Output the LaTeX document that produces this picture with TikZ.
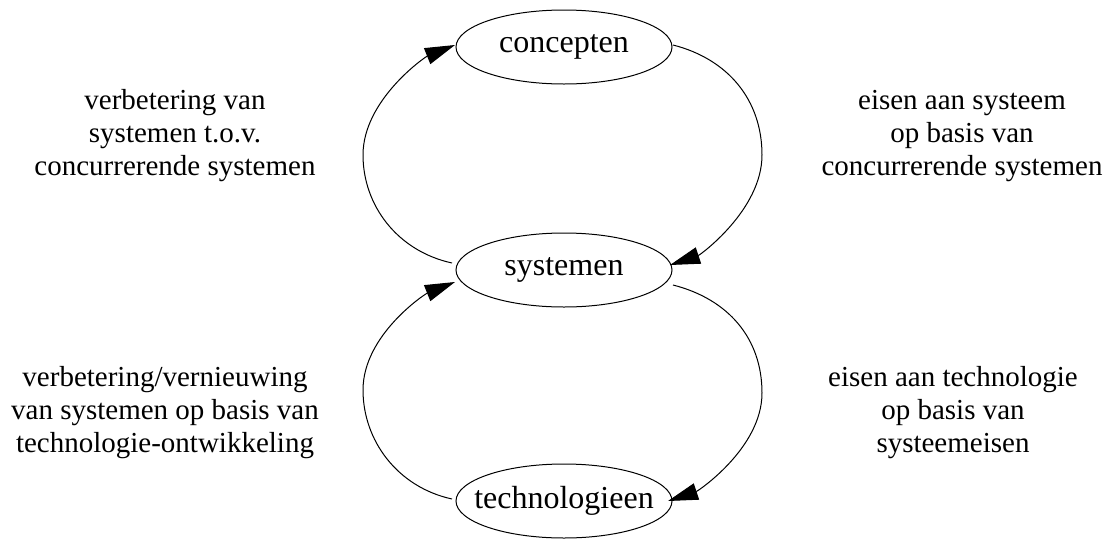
\documentclass[tikz,border=0pt]{standalone}
\usepackage{fontspec}
\setmainfont{Liberation Serif}
\usetikzlibrary{shapes.geometric,arrows.meta,calc}
\begin{document}
\begin{tikzpicture}[x=1pt,y=-1pt,
  state/.style={draw,ellipse,line width=1pt,minimum width=216pt,minimum height=74pt,inner ysep=0pt,inner xsep=-16pt,font=\fontsize{32}{36}\selectfont},
  lbl/.style={align=center,font=\fontsize{29}{33}\selectfont,inner sep=0pt},
  conn/.style={line width=1pt,-{Triangle[length=30pt,width=17pt]}}]
\useasboundingbox (0,0) rectangle (1112,539);
\node[state] (con) at (564,47) {concepten};
\node[state] (sys) at (564,270) {systemen};
\node[state] (tech) at (564,501) {technologieen};

\node[lbl] (l1) at (175,136) {verbetering van\\systemen t.o.v.\\concurrerende systemen};
\node[lbl] (l2) at (962,136) {eisen aan systeem\\op basis van\\concurrerende systemen};
\node[lbl] (l3) at (165,413) {verbetering/vernieuwing\\van systemen op basis van\\technologie-ontwikkeling};
\node[lbl] (l4) at (953,413) {eisen aan technologie\\op basis van\\systeemeisen};

% systemen -> concepten (left)
\draw[conn] ($(sys.center)+(-112,-7)$) .. controls +(-55,-12) and +(0,50) .. (363,155)
  .. controls +(0,-55) and +(-30,12) .. ($(con.center)+(-109,-2)$);
% concepten -> systemen (right)
\draw[conn] ($(con.center)+(109,-2)$) .. controls +(55,14) and +(0,-55) .. (762,155)
  .. controls +(0,55) and +(30,-10) .. ($(sys.center)+(106,-5)$);
% systemen -> technologieen (right)
\draw[conn] ($(sys.center)+(109,15)$) .. controls +(55,14) and +(0,-55) .. (762,393)
  .. controls +(0,55) and +(30,-10) .. ($(tech.center)+(104,0)$);
% technologieen -> systemen (left)
\draw[conn] ($(tech.center)+(-112,-2)$) .. controls +(-55,-12) and +(0,50) .. (363,390)
  .. controls +(0,-55) and +(-30,12) .. ($(sys.center)+(-109,12)$);
\end{tikzpicture}
\end{document}
